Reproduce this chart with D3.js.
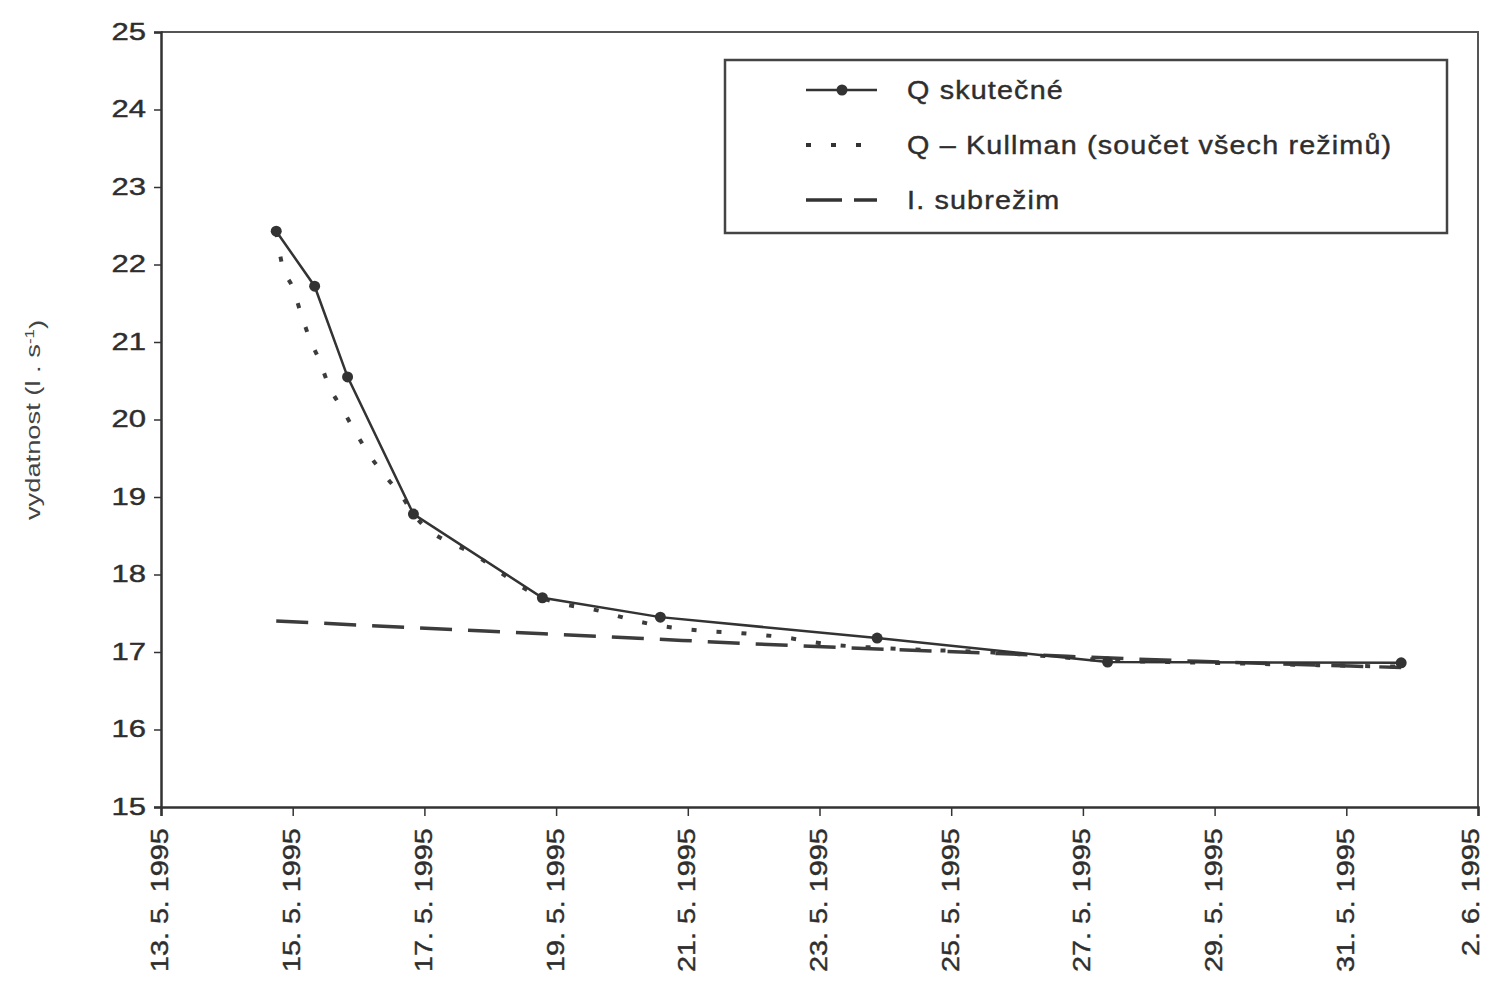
<!DOCTYPE html>
<html>
<head>
<meta charset="utf-8">
<script src="https://cdn.jsdelivr.net/npm/d3@7"></script>
<style>
  body { margin: 0; background: #fff; }
  text { font-family: "Liberation Sans", Arial, sans-serif; fill: #2e2e2e; stroke: #2e2e2e; stroke-width: 0.4px; }
</style>
</head>
<body>
<div id="chart"></div>
<script>
/* global d3 */

// Q skutecne - measured discharge
var qDates = ["1995-05-14T18:00", "1995-05-15T08:00", "1995-05-15T20:00", "1995-05-16T20:00",
    "1995-05-18T19:00", "1995-05-20T14:00", "1995-05-23T21:00", "1995-05-27T09:00", "1995-05-31T20:00"];
var qValues = [22.43, 21.72, 20.55, 18.78, 17.70, 17.45, 17.18, 16.87, 16.86];

// Q - Kullman (sum of all regimes)
var kullmanDates = ["1995-05-14T18:00", "1995-05-14T20:00", "1995-05-15T00:00", "1995-05-15T03:00",
    "1995-05-15T06:00", "1995-05-15T10:00", "1995-05-15T13:00", "1995-05-15T18:00", "1995-05-15T23:00",
    "1995-05-16T04:00", "1995-05-16T10:00", "1995-05-16T16:00", "1995-05-16T20:00", "1995-05-17T19:00",
    "1995-05-18T19:00", "1995-05-19T17:00", "1995-05-20T02:00", "1995-05-20T12:00", "1995-05-20T22:00",
    "1995-05-21T07:00", "1995-05-21T17:00", "1995-05-22T03:00", "1995-05-22T13:00", "1995-05-22T21:00",
    "1995-05-23T06:00", "1995-05-23T18:00", "1995-05-25T17:00", "1995-05-27T06:00", "1995-05-29T12:00",
    "1995-05-31T20:00"];
var kullmanValues = [22.42, 22.02, 21.70, 21.37, 21.06, 20.74, 20.45, 20.14, 19.83, 19.54, 19.26, 19.00,
    18.78, 18.24, 17.70, 17.52, 17.43, 17.35, 17.30, 17.27, 17.25, 17.22, 17.18, 17.13, 17.09, 17.06,
    16.99, 16.90, 16.85, 16.81];

// I. subrezim
var subDates = ["1995-05-14T18:00", "1995-05-17T22:00", "1995-05-20T04:00", "1995-05-22T10:00",
    "1995-05-25T17:00", "1995-05-28T18:00", "1995-05-31T20:00"];
var subValues = [17.40, 17.27, 17.18, 17.09, 16.98, 16.88, 16.80];

var xTickDates = ["1995-05-13", "1995-05-15", "1995-05-17", "1995-05-19", "1995-05-21", "1995-05-23",
    "1995-05-25", "1995-05-27", "1995-05-29", "1995-05-31", "1995-06-02"];
var yTicks = [15, 16, 17, 18, 19, 20, 21, 22, 23, 24, 25];

var legendLabels = ["Q skutečné", "Q \u2013 Kullman (součet všech režimů)", "I. subrežim"];

var width = 1489,
    height = 986,
    margin = { top: 32, right: 11, bottom: 179, left: 161 };

var parseTime = d3.timeParse("%Y-%m-%dT%H:%M");
var parseDay = d3.timeParse("%Y-%m-%d");
var tickFormat = d3.timeFormat("%-d. %-m. %Y");

function toPoints(dates, values) {
    return dates.map(function (d, i) { return { date: parseTime(d), value: values[i] }; });
}

var qData = toPoints(qDates, qValues);
var kullmanData = toPoints(kullmanDates, kullmanValues);
var subData = toPoints(subDates, subValues);

var xScale = d3.scaleTime()
    .domain([parseDay(xTickDates[0]), parseDay(xTickDates[xTickDates.length - 1])])
    .range([margin.left, width - margin.right]);

var yScale = d3.scaleLinear()
    .domain([15, 25])
    .range([height - margin.bottom, margin.top]);

var svg = d3.select("#chart").append("svg")
    .attr("width", width)
    .attr("height", height);

var ink = "#333";

// frame (top + right)
svg.append("path")
    .attr("d", "M" + xScale.range()[0] + "," + yScale(25) + "H" + xScale.range()[1] + "V" + yScale(15))
    .attr("fill", "none")
    .attr("stroke", "#555")
    .attr("stroke-width", 2);

// y axis
var yAxis = svg.append("g")
    .attr("transform", "translate(" + margin.left + ",0)")
    .call(d3.axisLeft(yScale).tickValues(yTicks).tickSize(7).tickFormat(d3.format("d")));

yAxis.select(".domain").attr("stroke", ink).attr("stroke-width", 2.5);
yAxis.selectAll(".tick line").attr("stroke", ink).attr("stroke-width", 1.5);
yAxis.selectAll(".tick text")
    .attr("x", 0)
    .attr("transform", "translate(-15,0)scale(1.35,1)")
    .style("font-size", "23px");

// x axis
var xAxis = svg.append("g")
    .attr("transform", "translate(0," + yScale(15) + ")")
    .call(d3.axisBottom(xScale).tickValues(xTickDates.map(parseDay)).tickSize(9).tickFormat(tickFormat));

xAxis.select(".domain").attr("stroke", ink).attr("stroke-width", 2.5);
xAxis.selectAll(".tick line").attr("stroke", ink).attr("stroke-width", 1.5);
xAxis.selectAll(".tick text")
    .attr("transform", "rotate(-90)scale(1.25,1)")
    .attr("x", -17)
    .attr("y", function (d, i, nodes) { return i === nodes.length - 1 ? -6 : 0; }) // keep last label inside
    .attr("dy", "0.3em")
    .attr("text-anchor", "end")
    .style("font-size", "23px");

// y axis title
var yTitle = svg.append("text")
    .attr("transform", "translate(40,420)rotate(-90)scale(1.3,1)")
    .attr("text-anchor", "middle")
    .style("font-size", "21px")
    .style("fill", "#444")
    .style("stroke", "none");
yTitle.append("tspan").text("vydatnost (l . s");
yTitle.append("tspan").attr("dy", "-0.5em").style("font-size", "13px").text("-1");
yTitle.append("tspan").attr("dy", "0.5em").text(")");

var line = d3.line()
    .x(function (d) { return xScale(d.date); })
    .y(function (d) { return yScale(d.value); });

var smoothLine = d3.line()
    .curve(d3.curveMonotoneX)
    .x(function (d) { return xScale(d.date); })
    .y(function (d) { return yScale(d.value); });

// I. subrezim - dashed
svg.append("path")
    .datum(subData)
    .attr("fill", "none")
    .attr("stroke", "#3c3c3c")
    .attr("stroke-width", 3.5)
    .attr("stroke-dasharray", "32,16")
    .attr("d", smoothLine);

// Kullman - dotted
svg.append("path")
    .datum(kullmanData)
    .attr("fill", "none")
    .attr("stroke", "#3c3c3c")
    .attr("stroke-width", 4)
    .attr("stroke-dasharray", "5,20")
    .attr("d", smoothLine);

// Q skutecne - solid with markers
svg.append("path")
    .datum(qData)
    .attr("fill", "none")
    .attr("stroke", ink)
    .attr("stroke-width", 2.5)
    .attr("d", line);

svg.append("g")
    .selectAll("circle")
    .data(qData)
    .enter().append("circle")
    .attr("cx", function (d) { return xScale(d.date); })
    .attr("cy", function (d) { return yScale(d.value); })
    .attr("r", 5.5)
    .attr("fill", ink);

// legend
var legend = svg.append("g").attr("transform", "translate(725,60)");

legend.append("rect")
    .attr("width", 722)
    .attr("height", 173)
    .attr("fill", "#fff")
    .attr("stroke", "#444")
    .attr("stroke-width", 2.5);

var legendStyles = [
    { dash: null, width: 2.5, marker: true },
    { dash: "5,20", width: 4, marker: false },
    { dash: "36,12", width: 3.5, marker: false }
];

var legendItem = legend.selectAll(".item")
    .data(legendLabels)
    .enter().append("g")
    .attr("class", "item")
    .attr("transform", function (d, i) { return "translate(0," + (30 + i * 55) + ")"; });

legendItem.append("line")
    .attr("x1", 81)
    .attr("x2", 152)
    .attr("stroke", ink)
    .attr("stroke-width", function (d, i) { return legendStyles[i].width; })
    .attr("stroke-dasharray", function (d, i) { return legendStyles[i].dash; });

legendItem.filter(function (d, i) { return legendStyles[i].marker; })
    .append("circle")
    .attr("cx", 117)
    .attr("r", 5.5)
    .attr("fill", ink);

legendItem.append("text")
    .attr("transform", "translate(182,0)scale(1.15,1)")
    .attr("dy", "0.35em")
    .attr("letter-spacing", "1px")
    .style("font-size", "25px")
    .text(function (d) { return d; });
</script>
</body>
</html>
